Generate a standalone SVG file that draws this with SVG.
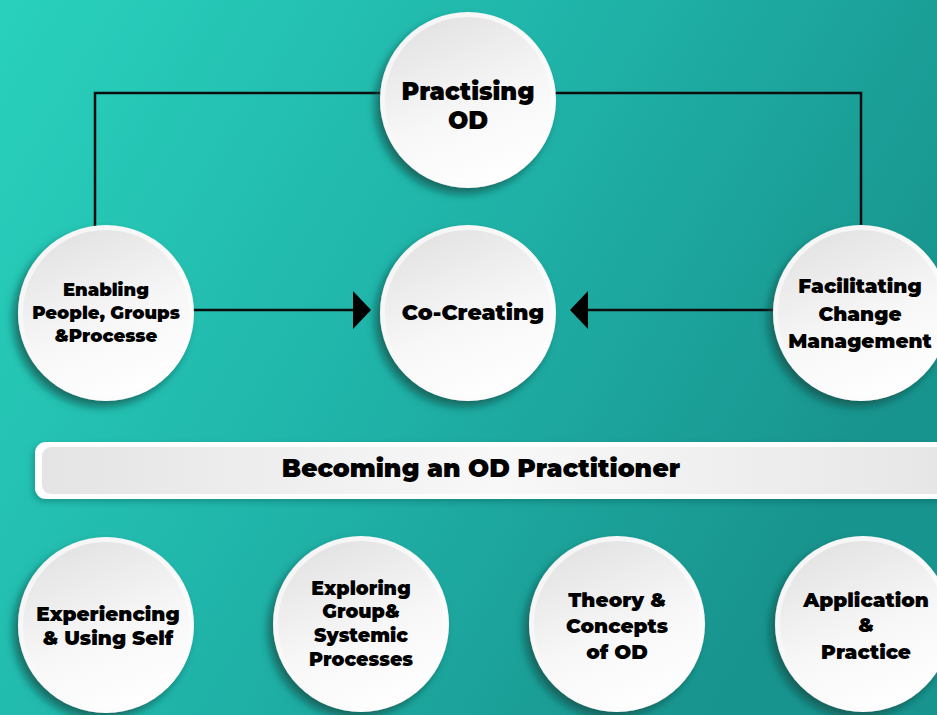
<svg xmlns="http://www.w3.org/2000/svg" width="937" height="715" viewBox="0 0 937 715">
<defs>
<linearGradient id="bg" x1="0" y1="0" x2="1" y2="0.45">
<stop offset="0" stop-color="#29d1bc"/>
<stop offset="0.5" stop-color="#20b5aa"/>
<stop offset="1" stop-color="#18948e"/>
</linearGradient>
<linearGradient id="ring" x1="0" y1="0" x2="1" y2="1">
<stop offset="0" stop-color="#f4f4f4"/>
<stop offset="1" stop-color="#ffffff"/>
</linearGradient>
<linearGradient id="face" x1="0.3" y1="0" x2="0.7" y2="1">
<stop offset="0" stop-color="#e3e3e3"/>
<stop offset="0.55" stop-color="#f7f7f7"/>
<stop offset="1" stop-color="#ffffff"/>
</linearGradient>
<linearGradient id="bar" x1="0" y1="0" x2="1" y2="0">
<stop offset="0" stop-color="#e4e4e4"/>
<stop offset="0.5" stop-color="#f8f8f8"/>
<stop offset="1" stop-color="#e6e6e6"/>
</linearGradient>
<filter id="sh" x="-30%" y="-30%" width="160%" height="160%">
<feDropShadow dx="-5" dy="6" stdDeviation="4" flood-color="#0b4c47" flood-opacity="0.7"/>
</filter>
<filter id="sh2" x="-10%" y="-50%" width="120%" height="200%">
<feDropShadow dx="-2" dy="3" stdDeviation="3" flood-color="#0b4c47" flood-opacity="0.35"/>
</filter>
</defs>
<style>
.outer{fill:url(#ring);filter:url(#sh)}
.inner{fill:url(#face)}
.t{font-family:"Montserrat","Lato","Noto Sans",sans-serif;font-weight:900;fill:#000;text-anchor:middle}
.line{stroke:#0d0d0d;stroke-width:2.5;fill:none}
.head{fill:#000}
</style>
<rect width="937" height="715" fill="url(#bg)"/>

<g id="connectors">
<polyline class="line" points="95,228 95,93 861,93 861,228"/>
<line class="line" x1="188" y1="310" x2="356" y2="310"/>
<polygon class="head" points="353,291 371,310 353,329"/>
<line class="line" x1="775" y1="310" x2="585" y2="310"/>
<polygon class="head" points="588,291 570,310 588,329"/>
</g>

<g id="practising-od">
<circle class="outer" cx="468" cy="100" r="88"/>
<circle class="inner" cx="468" cy="100" r="83"/>
<text class="t" x="468" y="100" font-size="24">Practising</text>
<text class="t" x="468" y="129" font-size="24">OD</text>
</g>

<g id="enabling">
<circle class="outer" cx="106" cy="313" r="88"/>
<circle class="inner" cx="106" cy="313" r="83"/>
<text class="t" x="106" y="296" font-size="18">Enabling</text>
<text class="t" x="106" y="319" font-size="18">People, Groups</text>
<text class="t" x="106" y="342" font-size="18">&amp;Processe</text>
</g>

<g id="co-creating">
<circle class="outer" cx="468" cy="313" r="88"/>
<circle class="inner" cx="468" cy="313" r="83"/>
<text class="t" x="473" y="320" font-size="22">Co-Creating</text>
</g>

<g id="facilitating">
<circle class="outer" cx="861" cy="313" r="88"/>
<circle class="inner" cx="861" cy="313" r="83"/>
<text class="t" x="860" y="293" font-size="20">Facilitating</text>
<text class="t" x="860" y="321" font-size="20">Change</text>
<text class="t" x="860" y="348" font-size="20">Management</text>
</g>

<g id="becoming">
<rect x="35" y="442" width="920" height="57" rx="11" fill="#ffffff" filter="url(#sh2)"/>
<rect x="42" y="447" width="910" height="47" rx="9" fill="url(#bar)"/>
<text class="t" x="481" y="477" font-size="25">Becoming an OD Practitioner</text>
</g>

<g id="experiencing">
<circle class="outer" cx="106" cy="625" r="88"/>
<circle class="inner" cx="106" cy="625" r="83"/>
<text class="t" x="108" y="621" font-size="20">Experiencing</text>
<text class="t" x="108" y="645" font-size="20">&amp; Using Self</text>
</g>

<g id="exploring">
<circle class="outer" cx="361" cy="624" r="88"/>
<circle class="inner" cx="361" cy="624" r="83"/>
<text class="t" x="361" y="595" font-size="19">Exploring</text>
<text class="t" x="361" y="618" font-size="19">Group&amp;</text>
<text class="t" x="361" y="642" font-size="19">Systemic</text>
<text class="t" x="361" y="666" font-size="19">Processes</text>
</g>

<g id="theory">
<circle class="outer" cx="617" cy="624" r="88"/>
<circle class="inner" cx="617" cy="624" r="83"/>
<text class="t" x="617" y="607" font-size="20">Theory &amp;</text>
<text class="t" x="617" y="633" font-size="20">Concepts</text>
<text class="t" x="617" y="659" font-size="20">of OD</text>
</g>

<g id="application">
<circle class="outer" cx="863" cy="624" r="88"/>
<circle class="inner" cx="863" cy="624" r="83"/>
<text class="t" x="866" y="607" font-size="20">Application</text>
<text class="t" x="866" y="632" font-size="20">&amp;</text>
<text class="t" x="866" y="659" font-size="20">Practice</text>
</g>
</svg>
